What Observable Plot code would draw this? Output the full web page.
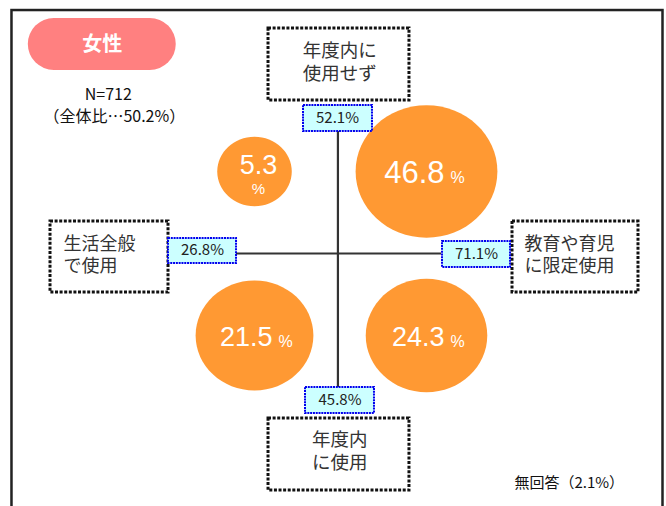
<!DOCTYPE html>
<html><head><meta charset="utf-8">
<script src="https://cdn.jsdelivr.net/npm/d3@7"></script>
<script src="https://cdn.jsdelivr.net/npm/@observablehq/plot@0.6"></script>
<style>body{margin:0;background:#fff}</style>
</head><body><div id="chart"></div>
<script>
// ---- data ----
const groupLabel = "女性";
const sampleLabel = "N=712";
const shareOfTotal = 50.2;
const noAnswerShare = 2.1;

const scopeCategories = ["生活全般で使用", "教育や育児に限定使用"];
const timingCategories = ["年度内に使用", "年度内に使用せず"];

const cellScope = ["生活全般で使用", "教育や育児に限定使用", "生活全般で使用", "教育や育児に限定使用"];
const cellTiming = ["年度内に使用せず", "年度内に使用せず", "年度内に使用", "年度内に使用"];
const cellShare = [5.3, 46.8, 21.5, 24.3];

const axisEndNames = ["年度内に\n使用せず", "生活全般\nで使用", "教育や育児\nに限定使用", "年度内\nに使用"];
const axisEndShare = [52.1, 26.8, 71.1, 45.8];

// ---- build ----
const cells = cellShare.map((v, i) => ({
  share: v,
  qx: scopeCategories.indexOf(cellScope[i]) * 2 - 1,
  qy: timingCategories.indexOf(cellTiming[i]) * 2 - 1
}));
const smallCells = cells.filter(d => d.share < 10);
const bigCells = cells.filter(d => d.share >= 10);

// layout of axis-end annotations (in quadrant units)
const endLayout = [
  {bx1: -0.837, bx2: 0.802, by1: 2.744, by2: 1.866, tx: -0.01, ty: 2.323, anchor: "middle",
   sx1: -0.430, sx2: 0.372, sy1: 1.805, sy2: 1.488, sx: -0.035, sy: 1.646},
  {bx1: -3.372, bx2: -2.0, by1: 0.390, by2: -0.476, tx: -3.221, ty: -0.027, anchor: "start",
   sx1: -2.0, sx2: -1.209, sy1: 0.183, sy2: -0.122, sx: -1.605, sy: 0.037},
  {bx1: 2.0, bx2: 3.465, by1: 0.390, by2: -0.476, tx: 2.140, ty: -0.027, anchor: "start",
   sx1: 1.186, sx2: 1.977, sy1: 0.146, sy2: -0.171, sx: 1.581, sy: -0.012},
  {bx1: -0.837, bx2: 0.802, by1: -2.012, by2: -2.890, tx: -0.01, ty: -2.421, anchor: "middle",
   sx1: -0.407, sx2: 0.395, sy1: -1.634, sy2: -1.951, sx: -0.006, sy: -1.793}
];
const ends = axisEndNames.map((n, i) => ({name: n, share: axisEndShare[i], ...endLayout[i]}));
const nameLines = ends.flatMap(d => d.name.split("\n").map((t, j) => ({...d, t, j})));
const lineMarks = (anchor, size, gap) => [0, 1].map(j =>
  Plot.text(nameLines.filter(d => d.anchor === anchor && d.j === j),
    {x: "tx", y: "ty", text: "t", fill: "#333", fontSize: size, textAnchor: anchor, dy: (j - 0.5) * gap}));

// ellipse-shaped dot symbol (slightly wider than tall, as in the original)
const ellipse = {
  draw(ctx, size) {
    const r = Math.sqrt(size / Math.PI), rx = r * 1.035, ry = r / 1.035, k = 0.5522847498;
    ctx.moveTo(rx, 0);
    ctx.bezierCurveTo(rx, ry * k, rx * k, ry, 0, ry);
    ctx.bezierCurveTo(-rx * k, ry, -rx, ry * k, -rx, 0);
    ctx.bezierCurveTo(-rx, -ry * k, -rx * k, -ry, 0, -ry);
    ctx.bezierCurveTo(rx * k, -ry, rx, -ry * k, rx, 0);
    ctx.closePath();
  }
};

const ink = "#333";
const numFont = "'Liberation Sans', Arial, sans-serif";
const chart = Plot.plot({
  width: 666, height: 506, margin: 0,
  style: {fontFamily: "'Noto Sans CJK JP', 'Noto Sans', sans-serif", background: "#fff"},
  x: {domain: [-1, 1], range: [254, 426], axis: null},
  y: {domain: [-1, 1], range: [335, 171], axis: null},
  r: {type: "log", domain: [5.3, 46.8], range: [36, 68.5]},
  marks: [
    // outer frame
    Plot.rect([0], {x1: () => -3.82, x2: () => 3.75, y1: () => 2.963, y2: () => -3.4, fill: "none", stroke: "#222", strokeWidth: 2.5}),
    // group pill
    Plot.rect([groupLabel], {x1: () => -3.63, x2: () => -1.91, y1: () => 2.866, y2: () => 2.232, fill: "#FF8080", rx: 26}),
    Plot.text([groupLabel], {x: () => -2.77, y: () => 2.549, text: d => d, fill: "white", fontSize: 20, fontWeight: "bold"}),
    Plot.text([sampleLabel], {x: () => -2.70, y: () => 1.94, text: d => d, fill: "#111", fontSize: 16}),
    Plot.text([shareOfTotal], {x: () => -2.63, y: () => 1.67, text: d => `（全体比…${d.toFixed(1)}%）`, fill: "#111", fontSize: 16}),
    // cross axes
    Plot.ruleX([0], {x: () => -0.03, y1: () => 1.488, y2: () => -1.634, stroke: ink, strokeWidth: 2.2}),
    Plot.ruleY([0], {y: d => d, x1: () => -1.22, x2: () => 1.175, stroke: ink, strokeWidth: 2.2}),
    // quadrant bubbles
    Plot.dot(cells, {x: "qx", y: "qy", r: "share", symbol: ellipse, fill: "#FF9933", stroke: "none", fillOpacity: 1}),
    Plot.text(smallCells, {x: "qx", y: "qy", text: d => d.share.toFixed(1), fill: "white", fontFamily: numFont, fontSize: 27, dy: -6, dx: 4}),
    Plot.text(smallCells, {x: "qx", y: "qy", text: () => "%", fill: "white", fontFamily: numFont, fontSize: 15, dy: 18, dx: 4}),
    Plot.text(bigCells, {x: "qx", y: "qy", text: d => d.share.toFixed(1), fill: "white", fontFamily: numFont, fontSize: d => d.share > 40 ? 31 : 27, textAnchor: "end", dx: 18, dy: 2}),
    Plot.text(bigCells, {x: "qx", y: "qy", text: () => "%", fill: "white", fontFamily: numFont, fontSize: 16, textAnchor: "start", dx: 24, dy: 6.5}),
    // axis-end name boxes
    Plot.rect(ends, {x1: "bx1", x2: "bx2", y1: "by1", y2: "by2", fill: "white", stroke: "#111", strokeWidth: 3, strokeDasharray: "3 1.6"}),
    ...lineMarks("middle", 18.5, 23),
    ...lineMarks("start", 18, 22),
    // axis-end share boxes
    Plot.rect(ends, {x1: "sx1", x2: "sx2", y1: "sy1", y2: "sy2", fill: "#CCFFFF", stroke: "#0000EE", strokeWidth: 2, strokeDasharray: "2 0.8"}),
    Plot.text(ends, {x: "sx", y: "sy", text: d => d.share.toFixed(1) + "%", fill: "#222", fontSize: 15}),
    // no answer
    Plot.text([noAnswerShare], {x: () => 2.66, y: () => -2.805, text: d => `無回答（${d.toFixed(1)}%）`, fill: "#111", fontSize: 15})
  ]
});
document.getElementById("chart").append(chart);
</script>
</body></html>
